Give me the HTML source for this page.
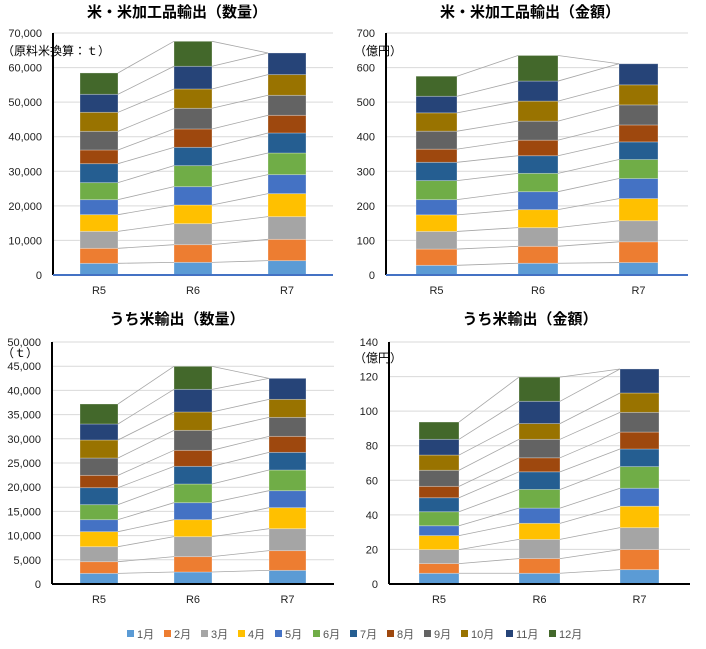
<!DOCTYPE html>
<html><head><meta charset="utf-8"><style>
body{margin:0;background:#fff;width:706px;height:649px;overflow:hidden}
svg{display:block;font-family:"Liberation Sans","Noto Sans CJK JP",sans-serif}
</style></head><body>
<svg id="s" width="706" height="649" xmlns="http://www.w3.org/2000/svg">
<text x="177" y="17" font-size="15" font-weight="bold" text-anchor="middle" font-family="Liberation Sans, Noto Sans CJK JP, sans-serif">米・米加工品輸出（数量）</text>
<text x="530" y="17" font-size="15" font-weight="bold" text-anchor="middle" font-family="Liberation Sans, Noto Sans CJK JP, sans-serif">米・米加工品輸出（金額）</text>
<text x="177" y="324" font-size="15" font-weight="bold" text-anchor="middle" font-family="Liberation Sans, Noto Sans CJK JP, sans-serif">うち米輸出（数量）</text>
<text x="530" y="324" font-size="15" font-weight="bold" text-anchor="middle" font-family="Liberation Sans, Noto Sans CJK JP, sans-serif">うち米輸出（金額）</text>
<text x="2" y="55" font-size="12" fill="#000">（原料米換算：ｔ）</text>
<text x="354" y="55" font-size="12" fill="#000">（億円）</text>
<text x="2" y="357" font-size="12" fill="#000">（ｔ）</text>
<text x="354" y="362" font-size="12" fill="#000">（億円）</text>
</svg>
<script>
const C=["#5b9bd5","#ed7d31","#a5a5a5","#ffc000","#4472c4","#70ad47","#255e91","#9e480e","#636363","#997300","#264478","#43682b"];
const s=document.getElementById('s');const NS="http://www.w3.org/2000/svg";
function el(t,a,txt){const e=document.createElementNS(NS,t);for(const k in a)e.setAttribute(k,a[k]);if(txt!=null)e.textContent=txt;s.appendChild(e);return e;}
const charts=[
{ax:53,right:333,top:33,bot:275,max:70000,step:10000,fmt:1,baxis:"#4472c4",bars:[[80,118],[174,212],[268,306]],
d:[[3375,7715,12630,17450,21790,26710,32200,36160,41560,47060,52270,58440],[3660,8775,14850,20250,25550,31630,36930,42240,48220,53810,60370,67600],[4150,10320,16880,23530,29030,35290,41080,46190,51980,57960,64220]]},
{ax:386,right:688,top:33,bot:275,max:700,step:100,fmt:0,baxis:"#4472c4",bars:[[416,457],[518,558],[619,658]],
d:[[28,75,126,174,218,273,326,364,416,469,517,575],[34,83,137,189,241,294,345,390,445,503,561,635],[36,96,157,221,279,334,385,434,492,550,611]]},
{ax:52,right:334,top:342,bot:584,max:50000,step:5000,fmt:1,baxis:"#000",bars:[[80,118],[174,212],[269,306]],
d:[[2200,4610,7710,10810,13290,16390,19900,22450,26030,29750,33060,37190],[2480,5650,9780,13290,16800,20660,24310,27620,31750,35540,40220,44970],[2820,6890,11430,15770,19280,23550,27200,30510,34430,38150,42490]]},
{ax:389,right:690,top:342,bot:584,max:140,step:20,fmt:0,baxis:"#000",bars:[[419,459],[519,560],[620,659]],
d:[[6.2,11.8,19.9,28,33.7,41.8,49.9,56.5,65.8,74.6,83.7,93.7],[6.2,14.7,25.8,35.1,43.9,54.7,64.9,73,83.7,92.8,105.7,119.7],[8.3,19.9,32.6,45,55.4,67.9,78.1,87.9,99.3,110.5,124.4]]}];
charts.forEach(c=>{
 const Y=v=>c.bot-(c.bot-c.top)*v/c.max;
 for(let v=0;v<=c.max+1e-9;v+=c.step){const y=Y(v);
  if(v>0)el('line',{x1:c.ax,x2:c.right,y1:y,y2:y,stroke:"#d9d9d9","stroke-width":1});
  el('text',{x:c.ax-11,y:y+4,"font-size":11,"text-anchor":"end",fill:"#222"},c.fmt?v.toLocaleString('en-US'):String(v));}
 c.d.forEach((arr,i)=>{const [x0,x1]=c.bars[i];let prev=0;
  arr.forEach((v,j)=>{el('rect',{x:x0,y:Y(v),width:x1-x0,height:Y(prev)-Y(v),fill:C[j],stroke:"#fff","stroke-opacity":0.35,"stroke-width":0.8});prev=v;});
  el('text',{x:(x0+x1)/2,y:c.bot+19,"font-size":11,"text-anchor":"middle",fill:"#222"},"R"+(5+i));
 });
 for(let i=0;i<2;i++){const a=c.d[i],b=c.d[i+1];const n=Math.max(a.length,b.length);
  for(let j=0;j<n;j++){const va=a[Math.min(j,a.length-1)],vb=b[Math.min(j,b.length-1)];
   el('line',{x1:c.bars[i][1],y1:Y(va),x2:c.bars[i+1][0],y2:Y(vb),stroke:"#a6a6a6","stroke-width":0.8});}}
 el('line',{x1:c.ax,x2:c.ax,y1:c.top,y2:c.bot,stroke:"#000","stroke-width":2});
 el('line',{x1:c.ax,x2:c.right,y1:c.bot,y2:c.bot,stroke:c.baxis,"stroke-width":2});
});
const lx=[127,164,201,238,275,313,350,387,424,461,506,549];
lx.forEach((x,i)=>{el('rect',{x:x,y:630,width:7,height:7,fill:C[i]});
 el('text',{x:x+10,y:638,"font-size":11,fill:"#555"},(i+1)+"月");});
</script>
</body></html>
